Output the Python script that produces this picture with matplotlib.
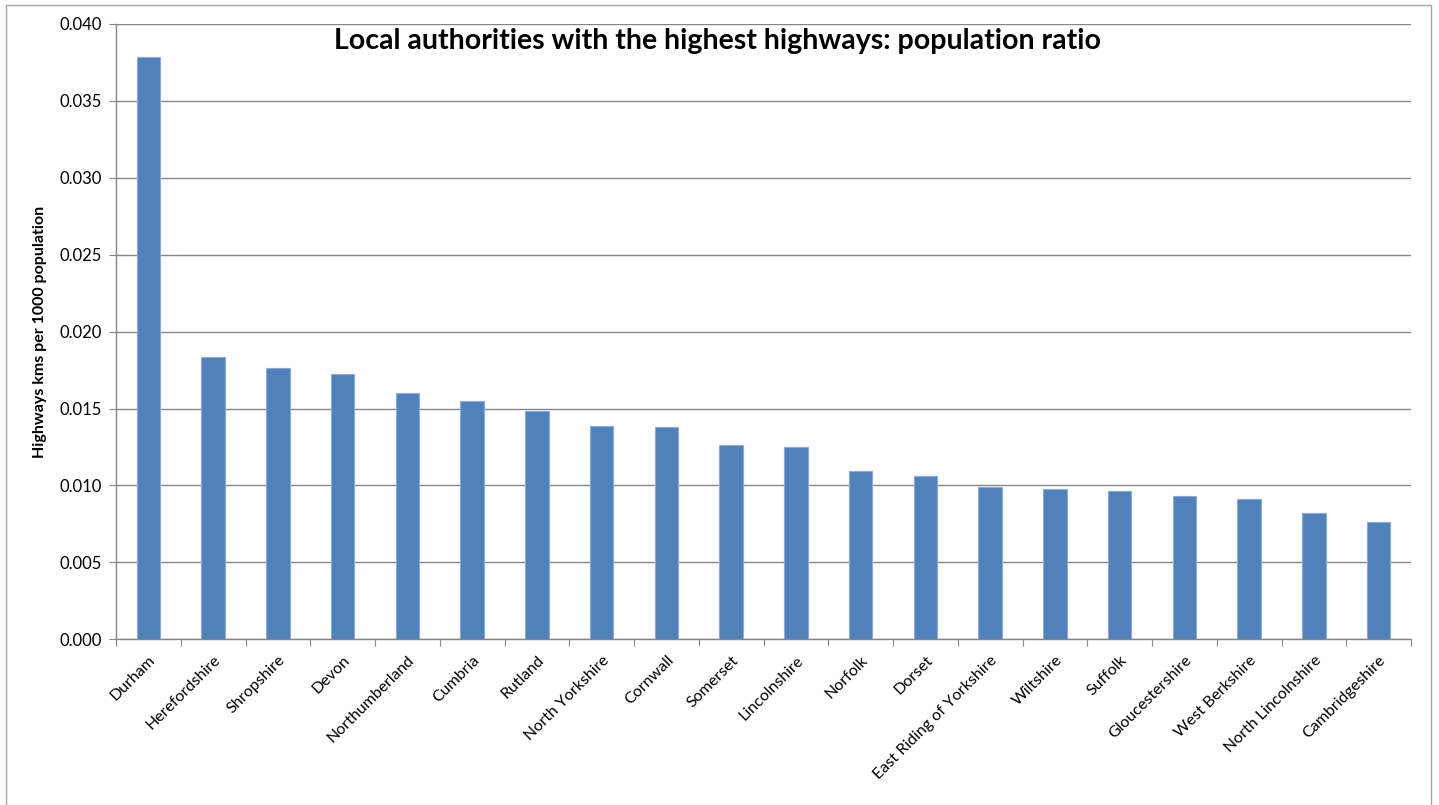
import matplotlib
matplotlib.use("Agg")
import matplotlib.pyplot as plt
from matplotlib.patches import Rectangle

categories = ["Durham", "Herefordshire", "Shropshire", "Devon", "Northumberland",
              "Cumbria", "Rutland", "North Yorkshire", "Cornwall", "Somerset",
              "Lincolnshire", "Norfolk", "Dorset", "East Riding of Yorkshire",
              "Wiltshire", "Suffolk", "Gloucestershire", "West Berkshire",
              "North Lincolnshire", "Cambridgeshire"]
values = [0.03788, 0.01833, 0.01764, 0.01723, 0.01604,
          0.01552, 0.01482, 0.01385, 0.01377, 0.01266,
          0.01249, 0.01097, 0.01062, 0.00987,
          0.00978, 0.00961, 0.00929, 0.00911,
          0.00818, 0.00760]
yticks = [0.000, 0.005, 0.010, 0.015, 0.020, 0.025, 0.030, 0.035, 0.040]
ytick_labels = ["0.000", "0.005", "0.010", "0.015", "0.020", "0.025", "0.030", "0.035", "0.040"]

plt.rcParams['font.family'] = ['Lato', 'DejaVu Sans']

W, H = 1439, 805
fig = plt.figure(figsize=(W / 100, H / 100), dpi=100)
ax = fig.add_axes([116 / W, 1 - 639.3 / H, (1411 - 116) / W, (639.3 - 24) / H])

x = list(range(len(categories)))
ax.bar(x, values, width=0.36, color="#4F81BD", edgecolor="#8EAADB", linewidth=0.8, zorder=3)

ax.set_xlim(-0.5, len(categories) - 0.5)
ax.set_ylim(0, 0.040)
ax.set_yticks(yticks)
ax.set_yticklabels(ytick_labels, fontsize=12)
ax.yaxis.grid(True, color="#868686", linewidth=1.0, zorder=0)
ax.set_axisbelow(True)

# x ticks at category boundaries, labels at centres
ax.set_xticks([i - 0.5 for i in range(len(categories) + 1)])
ax.set_xticklabels([])
ax.set_xticks(x, minor=True)
ax.set_xticklabels(categories, minor=True, rotation=45, ha="right",
                   rotation_mode="anchor", fontsize=11.5)
ax.tick_params(axis="x", which="minor", length=0, pad=10)
ax.tick_params(axis="x", which="major", length=5, color="#868686", direction="out")
ax.tick_params(axis="y", length=5, color="#868686", direction="out", pad=5)

for side in ["top", "right"]:
    ax.spines[side].set_visible(False)
for side in ["left", "bottom"]:
    ax.spines[side].set_color("#868686")
    ax.spines[side].set_linewidth(1.0)

ax.set_ylabel("Highways kms per 1000 population", fontsize=11.5, fontweight="bold", labelpad=9)

fig.text(717 / W, 1 - 41 / H, "Local authorities with the highest highways: population ratio",
         ha="center", va="center", fontsize=20.5, fontweight="bold")

fig.patches.append(Rectangle((6 / W, -0.05), (1431 - 6) / W, 1 - 5 / H + 0.05,
                             transform=fig.transFigure, fill=False,
                             edgecolor="#A6A6A6", linewidth=1.0))

fig.savefig("out.png", dpi=100)
